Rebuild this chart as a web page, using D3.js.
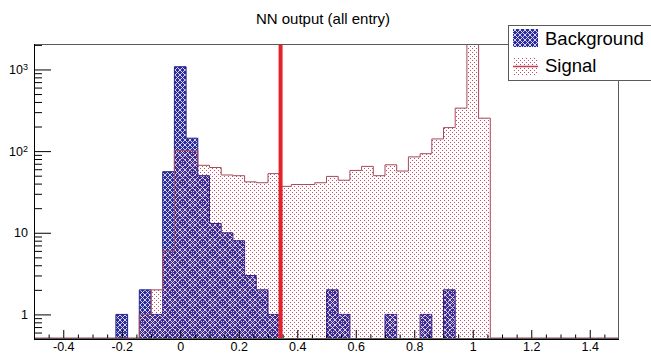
<!DOCTYPE html>
<html>
<head>
<meta charset="utf-8">
<script src="https://cdn.jsdelivr.net/npm/d3@7"></script>
<style>
  html, body { margin: 0; padding: 0; background: #fff; }
  svg { display: block; font-family: "Liberation Sans", Arial, sans-serif; }
</style>
</head>
<body>
<svg id="chart" width="651" height="354"></svg>
<script>
// NN output distributions, 0.04-wide bins (lower edge of each filled bin)
const binWidth = 0.04;
const bgBinLow  = [-0.22, -0.14, -0.10, -0.06, -0.02, 0.02, 0.06, 0.10, 0.14, 0.18, 0.22, 0.26, 0.30, 0.50, 0.54, 0.70, 0.82, 0.90];
const bgCounts  = [1, 2, 1, 56, 1080, 144, 50, 13, 10, 8, 3, 2, 1, 2, 1, 1, 1, 2];
const sigBinLow = [-0.14, -0.10, -0.06, -0.02, 0.02, 0.06, 0.10, 0.14, 0.18, 0.22, 0.26, 0.30, 0.34, 0.38, 0.42, 0.46, 0.50, 0.54, 0.58, 0.62, 0.66, 0.70, 0.74, 0.78, 0.82, 0.86, 0.90, 0.94, 0.98, 1.02];
const sigCounts = [1, 2, 6, 102, 101, 67, 63, 51, 50, 42, 41, 53, 37, 39, 39, 41, 49, 44, 58, 65, 50, 68, 57, 85, 93, 141, 194, 336, 3600, 253];
const cutValue = 0.343;

const xDomain = [-0.5, 1.5];
const yDomain = [0.5, 2050];
const xMajorTicks = [-0.4, -0.2, 0, 0.2, 0.4, 0.6, 0.8, 1, 1.2, 1.4];
const yMajorTicks = [1, 10, 100, 1000];
const yTickLabels = [["1", ""], ["10", ""], ["10", "2"], ["10", "3"]];
const legendLabels = ["Background", "Signal"];
const titleText = "NN output (all entry)";

const frame = { left: 34, right: 619, top: 44, bottom: 339 };

const svg = d3.select("#chart");
const x = d3.scaleLinear().domain(xDomain).range([frame.left, frame.right]);
const y = d3.scaleLog().domain(yDomain).range([frame.bottom, frame.top]);

const defs = svg.append("defs");
// crosshatch fill for the background sample
const pBg = defs.append("pattern").attr("id", "hatchBg")
  .attr("patternUnits", "userSpaceOnUse").attr("width", 5).attr("height", 5);
pBg.append("rect").attr("width", 5).attr("height", 5).attr("fill", "#2c2c9e");
pBg.append("path").attr("d", "M-1,-1 L6,6 M6,-1 L-1,6")
  .attr("stroke", "#e6e6f6").attr("stroke-width", 0.9).attr("fill", "none");
// sparse dotted fill for the signal sample (lets the hatch show through)
const pSig = defs.append("pattern").attr("id", "dotSig")
  .attr("patternUnits", "userSpaceOnUse").attr("width", 4).attr("height", 4);
pSig.append("rect").attr("x", 0).attr("y", 0).attr("width", 1).attr("height", 1).attr("fill", "#c84a66");
pSig.append("rect").attr("x", 2).attr("y", 2).attr("width", 1).attr("height", 1).attr("fill", "#c84a66");

defs.append("clipPath").attr("id", "frameClip").append("rect")
  .attr("x", frame.left).attr("y", frame.top)
  .attr("width", frame.right - frame.left).attr("height", frame.bottom - frame.top);

// Expand sparse bins over the full axis range (empty bins sit on the floor)
function fullHistogram(lows, counts) {
  const nBins = Math.round((xDomain[1] - xDomain[0]) / binWidth);
  const out = [];
  for (let i = 0; i < nBins; i++) {
    const lo = xDomain[0] + i * binWidth;
    const j = lows.findIndex(v => Math.abs(v - lo) < 1e-6);
    out.push({ lo: lo, hi: lo + binWidth, n: j >= 0 ? counts[j] : 0 });
  }
  return out;
}

function stepPath(bins, floorY) {
  const yy = n => n > 0 ? Math.max(y(n), frame.top - 2) : floorY;
  let d = `M${x(bins[0].lo)},${floorY}`;
  bins.forEach(b => { d += `L${x(b.lo)},${yy(b.n)}L${x(b.hi)},${yy(b.n)}`; });
  d += `L${x(bins[bins.length - 1].hi)},${floorY}`;
  return d;
}

const plot = svg.append("g").attr("clip-path", "url(#frameClip)");

const bgBins = fullHistogram(bgBinLow, bgCounts);
const sigBins = fullHistogram(sigBinLow, sigCounts);

plot.append("path").attr("d", stepPath(bgBins, frame.bottom + 2) + "Z")
  .attr("fill", "url(#hatchBg)").attr("stroke", "#23238c").attr("stroke-width", 1);

plot.append("path").attr("d", stepPath(sigBins, frame.bottom + 2) + "Z")
  .attr("fill", "url(#dotSig)").attr("stroke", "none");
plot.append("path").attr("d", stepPath(sigBins, frame.bottom - 1))
  .attr("fill", "none").attr("stroke", "#a84a5a").attr("stroke-width", 1);

// cut position
plot.append("line")
  .attr("x1", x(cutValue)).attr("x2", x(cutValue))
  .attr("y1", frame.top).attr("y2", frame.bottom)
  .attr("stroke", "#e4222a").attr("stroke-width", 4);

// Axes (ticks point into the frame)
const xMinor = d3.range(-0.45, 1.5, 0.05).map(v => +v.toFixed(2))
  .filter(v => !xMajorTicks.some(t => Math.abs(t - v) < 1e-6));
const yMinor = [];
[0.1, 1, 10, 100, 1000].forEach(dec => {
  for (let k = 2; k <= 9; k++) {
    const v = k * dec;
    if (v >= yDomain[0] && v <= yDomain[1]) yMinor.push(v);
  }
});

const axisStyle = g => {
  g.select(".domain").remove();
  g.selectAll("line").attr("stroke", "#000").attr("stroke-width", 1);
  g.selectAll("text").attr("fill", "#000").attr("font-size", 12.5)
    .attr("font-family", "Liberation Sans, Arial, sans-serif");
};

svg.append("g").attr("transform", `translate(0,${frame.bottom})`)
  .call(d3.axisBottom(x).tickValues(xMinor).tickSize(-4.5).tickFormat(""))
  .call(axisStyle);
svg.append("g").attr("transform", `translate(0,${frame.bottom})`)
  .call(d3.axisBottom(x).tickValues(xMajorTicks).tickSize(-9).tickPadding(3)
    .tickFormat(d => String(+d.toFixed(1))))
  .call(axisStyle);

svg.append("g").attr("transform", `translate(${frame.left},0)`)
  .call(d3.axisLeft(y).tickValues(yMinor).tickSize(-8).tickFormat(""))
  .call(axisStyle);
const yAx = svg.append("g").attr("transform", `translate(${frame.left},0)`)
  .call(d3.axisLeft(y).tickValues(yMajorTicks).tickSize(-17).tickPadding(6).tickFormat(""))
  .call(axisStyle);
yAx.selectAll(".tick").each(function (d, i) {
  const lab = yTickLabels[i];
  const t = d3.select(this).select("text").text(null)
    .attr("dy", "0.32em").attr("text-anchor", "end");
  t.append("tspan").text(lab[0]);
  if (lab[1]) t.append("tspan").attr("dy", "-0.45em").attr("font-size", 9).text(lab[1]);
});

// Frame
svg.append("rect")
  .attr("x", frame.left + 0.5).attr("y", frame.top + 0.5)
  .attr("width", frame.right - frame.left - 1).attr("height", frame.bottom - frame.top - 1)
  .attr("fill", "none").attr("stroke", "#5a5a5a").attr("stroke-width", 1);
svg.append("line").attr("x1", frame.left).attr("x2", frame.right)
  .attr("y1", frame.bottom + 0.5).attr("y2", frame.bottom + 0.5).attr("stroke", "#000");
svg.append("line").attr("x1", frame.left + 0.5).attr("x2", frame.left + 0.5)
  .attr("y1", frame.top).attr("y2", frame.bottom).attr("stroke", "#000");

// Title
svg.append("text").attr("x", 323).attr("y", 24).attr("text-anchor", "middle")
  .attr("font-size", 15).attr("fill", "#000").text(titleText);

// Legend
const leg = svg.append("g");
leg.append("rect").attr("x", 508.5).attr("y", 25.5).attr("width", 160).attr("height", 55)
  .attr("fill", "#fff").attr("stroke", "#5a5a5a").attr("stroke-width", 1);
leg.append("rect").attr("x", 513).attr("y", 29).attr("width", 25).attr("height", 18)
  .attr("fill", "url(#hatchBg)");
leg.append("rect").attr("x", 513).attr("y", 57).attr("width", 25).attr("height", 19)
  .attr("fill", "url(#dotSig)");
leg.append("line").attr("x1", 513).attr("x2", 538).attr("y1", 66.5).attr("y2", 66.5)
  .attr("stroke", "#c23a4e").attr("stroke-width", 1.5);
leg.selectAll("text.lab").data(legendLabels).join("text").attr("class", "lab")
  .attr("x", 545).attr("y", (d, i) => 45 + i * 27)
  .attr("font-size", 18.5).attr("fill", "#000").text(d => d);
</script>
</body>
</html>
